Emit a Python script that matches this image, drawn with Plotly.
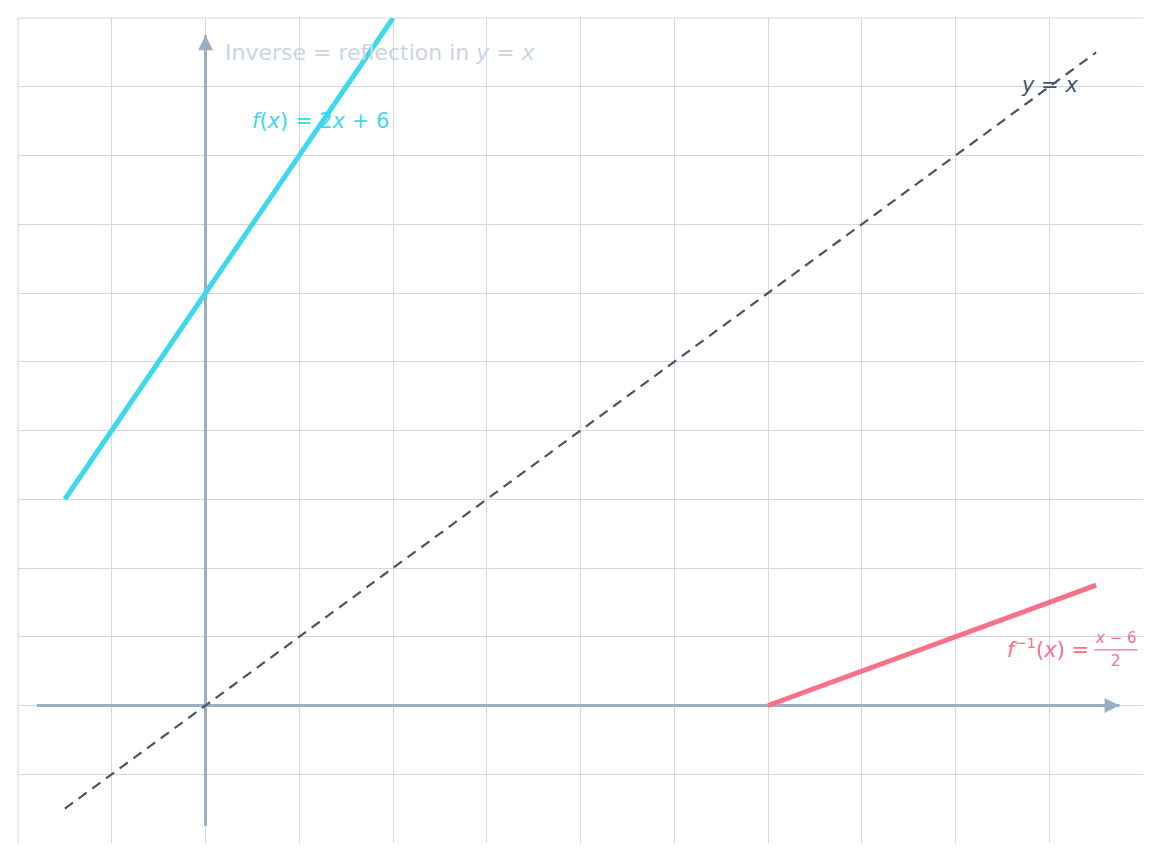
import plotly.graph_objects as go

# function f(x) = 2x + 6, drawn between its end points
f_x = [-1.5, 2.0]
f_y = [3.0, 10.0]

# inverse f^-1(x) = (x - 6) / 2
inv_x = [6.0, 9.5]
inv_y = [0.0, 1.75]

# reflection line y = x
diag_x = [-1.5, 9.5]
diag_y = [-1.5, 9.5]

# axis extents (tail, head)
x_axis_ends = [-1.8, 9.75]
y_axis_ends = [-1.75, 9.75]

axis_range = [-2, 10]

CYAN = "#3dd8ec"
PINK = "#f87187"
SLATE = "#475569"
AXIS = "#9aaec4"
GRID = "#d6d6dc"
FONT = "DejaVu Sans"

fig = go.Figure()

# axes as plain lines, arrowheads come from annotations below
fig.add_trace(go.Scatter(x=x_axis_ends, y=[0, 0], mode="lines",
                         line=dict(color=AXIS, width=3), hoverinfo="skip"))
fig.add_trace(go.Scatter(x=[0, 0], y=y_axis_ends, mode="lines",
                         line=dict(color=AXIS, width=3), hoverinfo="skip"))

fig.add_trace(go.Scatter(x=diag_x, y=diag_y, mode="lines",
                         line=dict(color=SLATE, width=2.2, dash="10px,7px")))
fig.add_trace(go.Scatter(x=f_x, y=f_y, mode="lines",
                         line=dict(color=CYAN, width=5)))
fig.add_trace(go.Scatter(x=inv_x, y=inv_y, mode="lines",
                         line=dict(color=PINK, width=5)))

annotations = [
    # arrowheads
    dict(x=x_axis_ends[1], y=0, ax=x_axis_ends[1] - 0.3, ay=0,
         xref="x", yref="y", axref="x", ayref="y", text="", showarrow=True,
         arrowhead=2, arrowsize=1, arrowwidth=3, arrowcolor=AXIS),
    dict(x=0, y=y_axis_ends[1], ax=0, ay=y_axis_ends[1] - 0.4,
         xref="x", yref="y", axref="x", ayref="y", text="", showarrow=True,
         arrowhead=2, arrowsize=1, arrowwidth=3, arrowcolor=AXIS),
    # labels
    dict(x=0.19, y=9.5, text="Inverse = reflection in <i>y</i> = <i>x</i>",
         xanchor="left", showarrow=False,
         font=dict(family=FONT, size=22, color="#cbd5e1")),
    dict(x=1.23, y=8.5, text="<i>f</i>(<i>x</i>) = 2<i>x</i> + 6",
         showarrow=False, font=dict(family=FONT, size=21, color=CYAN)),
    dict(x=9.0, y=9.03, text="<i>y</i> = <i>x</i>",
         showarrow=False, font=dict(family=FONT, size=21, color=SLATE)),
    dict(x=9.45, y=0.84, text="<i>f</i><sup>−1</sup>(<i>x</i>) =",
         xanchor="right", showarrow=False,
         font=dict(family=FONT, size=21, color=PINK)),
    dict(x=9.71, y=0.98, text="<i>x</i> − 6",
         showarrow=False, font=dict(family=FONT, size=15, color=PINK)),
    dict(x=9.71, y=0.65, text="2",
         showarrow=False, font=dict(family=FONT, size=15, color=PINK)),
]

# fraction bar
fig.add_shape(type="line", x0=9.48, x1=9.94, y0=0.81, y1=0.81,
              line=dict(color=PINK, width=1.2))

# plotly skips gridlines sitting on the plot edge; the left and top ones are wanted
fig.add_shape(type="line", xref="paper", yref="paper", x0=0, x1=0, y0=0, y1=1,
              line=dict(color=GRID, width=1), layer="below")
fig.add_shape(type="line", xref="paper", yref="paper", x0=0, x1=1, y0=1, y1=1,
              line=dict(color=GRID, width=1), layer="below")

fig.update_xaxes(range=axis_range, dtick=1, tick0=0, showgrid=True, gridcolor=GRID,
                 gridwidth=1, zeroline=False, showticklabels=False, fixedrange=True)
fig.update_yaxes(range=axis_range, dtick=1, tick0=0, showgrid=True, gridcolor=GRID,
                 gridwidth=1, zeroline=False, showticklabels=False, fixedrange=True)

# page body keeps its default 8px margin, so size the figure to fit inside it
fig.update_layout(
    width=1145, height=845,
    margin=dict(l=10, r=10, t=10, b=10),
    plot_bgcolor="white", paper_bgcolor="white",
    showlegend=False,
    annotations=annotations,
    font=dict(family=FONT),
)

fig.write_html("out.html")
